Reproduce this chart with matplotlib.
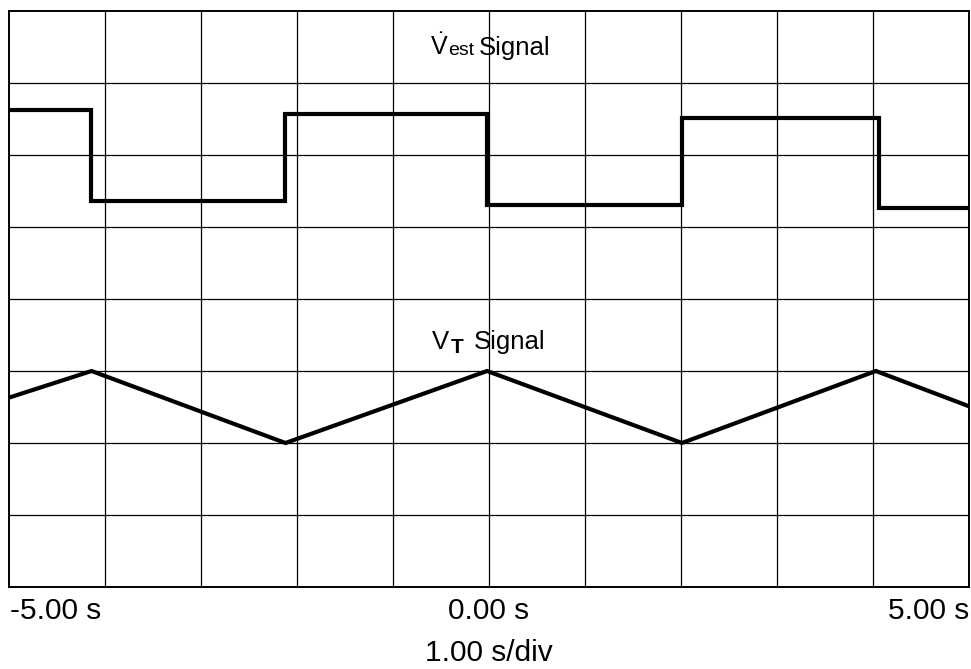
import matplotlib
matplotlib.use("Agg")
import matplotlib.pyplot as plt
from matplotlib.transforms import blended_transform_factory

plt.rcParams['font.family'] = ['Liberation Sans', 'DejaVu Sans']
plt.rcParams['mathtext.fontset'] = 'custom'
plt.rcParams['mathtext.rm'] = 'Liberation Sans'
plt.rcParams['mathtext.sf'] = 'Liberation Sans'
plt.rcParams['mathtext.bf'] = 'Liberation Sans:bold'

# ---- data ----
sq_edges = [-5.0, -4.15, -2.12, -0.02, 2.01, 4.06, 5.0]
sq_levels = [2.62, 1.36, 2.57, 1.31, 2.52, 1.27]

tri_t = [-5.0, -4.14, -2.12, -0.02, 2.01, 4.03, 5.0]
tri_v = [-1.37, -1.0, -2.0, -1.0, -2.0, -1.0, -1.49]

tick_pos = [-5.0, 0.0, 5.0]
tick_labels = ["-5.00 s", "0.00 s", "5.00 s"]
scale_label = "1.00 s/div"

fig = plt.figure(figsize=(9.71, 6.69), dpi=100)
ax = fig.add_axes([9/971, 1-587/669, 960/971, 576/669])
ax.set_xlim(-5, 5)
ax.set_ylim(-4, 4)

for x in range(-4, 5):
    ax.axvline(x, color='black', lw=0.9, zorder=1)
for y in range(-3, 4):
    ax.axhline(y, color='black', lw=0.9, zorder=1)
for s in ax.spines.values():
    s.set_linewidth(1.4)
ax.set_xticks([])
ax.set_yticks([])

ax.stairs(sq_levels, sq_edges, baseline=None, color='black', lw=3.0, zorder=3)
ax.plot(tri_t, tri_v, color='black', lw=3.0, zorder=3, solid_joinstyle='miter')

# Vest Signal label
ax.text(-0.615, 3.39, r"$\dot{\mathrm{V}}$", fontsize=18, ha='left', va='baseline')
ax.text(-0.427, 3.39, "est", fontsize=14, ha='left', va='baseline')
ax.text(-0.104, 3.39, "Signal", fontsize=18.5, ha='left', va='baseline')

# VT Signal label
ax.text(-0.60, -0.694, "V", fontsize=18.5, ha='left', va='baseline')
ax.text(-0.40, -0.75, "T", fontsize=15, fontweight='bold', ha='left', va='baseline')
ax.text(-0.156, -0.694, "Signal", fontsize=18.5, ha='left', va='baseline')

trans = blended_transform_factory(ax.transData, fig.transFigure)
has = ['left', 'center', 'right']
for p, lab, h in zip(tick_pos, tick_labels, has):
    xp = p
    if h == 'left':
        xp = p + 0.01
    ax.text(xp, 1-611/669, lab, fontsize=21.5, ha=h, va='center', transform=trans)
ax.text(0.0, 1-653/669, scale_label, fontsize=21.5, ha='center', va='center', transform=trans)

fig.savefig("out.png", dpi=100)
